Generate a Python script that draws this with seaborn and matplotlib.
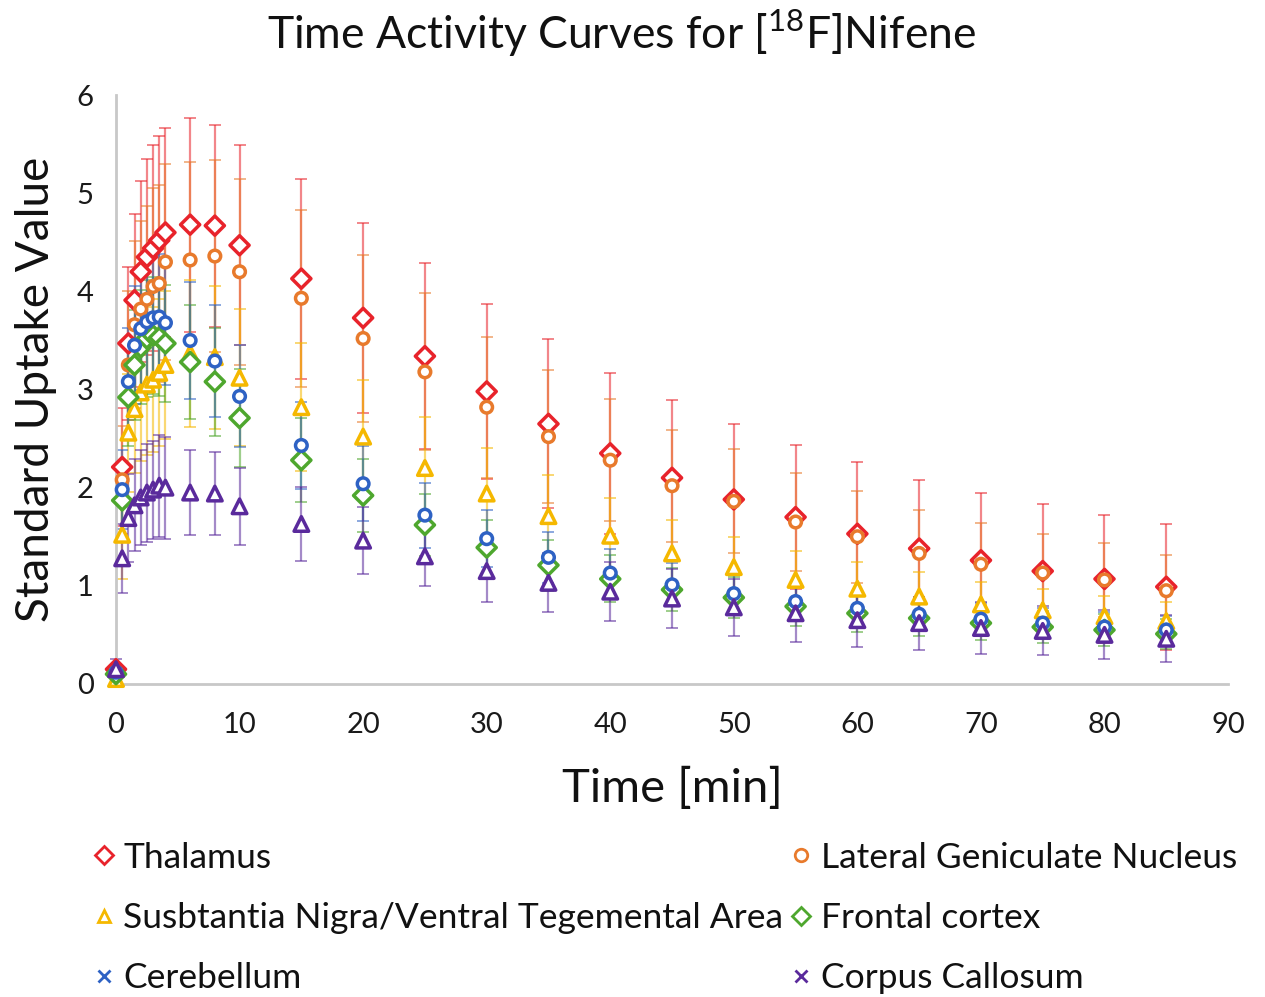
import matplotlib
matplotlib.use("Agg")
import matplotlib.pyplot as plt
from matplotlib.lines import Line2D
import numpy as np
import pandas as pd
import seaborn as sns

# time points (min)
times = [0, 0.5, 1, 1.5, 2, 2.5, 3, 3.5, 4, 6, 8, 10, 15, 20, 25, 30, 35,
         40, 45, 50, 55, 60, 65, 70, 75, 80, 85]

# mean SUV per region
thalamus = [0.15, 2.21, 3.47, 3.91, 4.20, 4.35, 4.44, 4.52, 4.60, 4.68, 4.67,
            4.47, 4.13, 3.73, 3.34, 2.98, 2.65, 2.35, 2.10, 1.88, 1.70, 1.53,
            1.38, 1.26, 1.15, 1.07, 0.99]
lgn = [0.12, 2.08, 3.25, 3.66, 3.82, 3.92, 4.05, 4.08, 4.30, 4.32, 4.36,
       4.20, 3.93, 3.52, 3.18, 2.82, 2.52, 2.28, 2.02, 1.86, 1.65, 1.50,
       1.33, 1.22, 1.13, 1.06, 0.95]
sn_vta = [0.05, 1.52, 2.56, 2.80, 2.97, 3.05, 3.10, 3.17, 3.25, 3.37, 3.33,
          3.12, 2.82, 2.52, 2.20, 1.94, 1.71, 1.51, 1.33, 1.19, 1.06, 0.97,
          0.89, 0.81, 0.75, 0.69, 0.64]
frontal = [0.10, 1.87, 2.92, 3.25, 3.43, 3.52, 3.55, 3.53, 3.47, 3.28, 3.08,
           2.71, 2.28, 1.92, 1.62, 1.39, 1.21, 1.07, 0.96, 0.88, 0.79, 0.72,
           0.67, 0.62, 0.58, 0.55, 0.51]
cerebellum = [0.12, 1.98, 3.08, 3.45, 3.62, 3.69, 3.73, 3.74, 3.68, 3.50,
              3.29, 2.93, 2.43, 2.04, 1.72, 1.48, 1.29, 1.13, 1.01, 0.92,
              0.84, 0.77, 0.71, 0.66, 0.62, 0.58, 0.55]
corpus = [0.15, 1.28, 1.69, 1.82, 1.90, 1.95, 1.98, 2.02, 2.00, 1.95, 1.94,
          1.81, 1.63, 1.46, 1.30, 1.15, 1.03, 0.94, 0.87, 0.78, 0.72, 0.65,
          0.62, 0.57, 0.54, 0.50, 0.46]

# standard deviations
thalamus_sd = [0.05, 0.60, 0.78, 0.88, 0.92, 1.00, 1.05, 1.06, 1.06, 1.09,
               1.03, 1.02, 1.02, 0.97, 0.95, 0.89, 0.86, 0.82, 0.79, 0.77,
               0.73, 0.73, 0.70, 0.69, 0.68, 0.65, 0.64]
lgn_sd = [0.05, 0.55, 0.75, 0.85, 0.90, 0.95, 1.00, 1.00, 1.00, 1.00, 0.98,
          0.95, 0.90, 0.85, 0.80, 0.72, 0.68, 0.62, 0.57, 0.53, 0.50, 0.47,
          0.44, 0.42, 0.40, 0.38, 0.36]
sn_vta_sd = [0.03, 0.45, 0.60, 0.65, 0.70, 0.72, 0.74, 0.75, 0.75, 0.75,
             0.73, 0.70, 0.65, 0.58, 0.52, 0.46, 0.42, 0.38, 0.34, 0.31,
             0.29, 0.27, 0.25, 0.23, 0.22, 0.21, 0.20]
frontal_sd = [0.04, 0.40, 0.50, 0.56, 0.58, 0.60, 0.60, 0.60, 0.60, 0.58,
              0.55, 0.50, 0.43, 0.37, 0.32, 0.28, 0.26, 0.24, 0.22, 0.21,
              0.20, 0.19, 0.18, 0.17, 0.16, 0.16, 0.15]
cerebellum_sd = [0.04, 0.40, 0.55, 0.60, 0.62, 0.63, 0.64, 0.64, 0.63, 0.60,
                 0.57, 0.52, 0.44, 0.38, 0.33, 0.29, 0.26, 0.24, 0.22, 0.20,
                 0.19, 0.18, 0.17, 0.16, 0.15, 0.15, 0.14]
corpus_sd = [0.10, 0.35, 0.45, 0.47, 0.48, 0.50, 0.50, 0.52, 0.52, 0.43,
             0.42, 0.39, 0.38, 0.34, 0.30, 0.31, 0.30, 0.30, 0.30, 0.29,
             0.29, 0.27, 0.27, 0.26, 0.25, 0.25, 0.24]

regions = ["Thalamus", "Lateral Geniculate Nucleus",
           "Susbtantia Nigra/Ventral Tegemental Area", "Frontal cortex",
           "Cerebellum", "Corpus Callosum"]
means = [thalamus, lgn, sn_vta, frontal, cerebellum, corpus]
sds = [thalamus_sd, lgn_sd, sn_vta_sd, frontal_sd, cerebellum_sd, corpus_sd]
colors = ["#e8232b", "#e87a2c", "#f5b800", "#4ea72e", "#2e62c4", "#5a2a9c"]
markers = ["D", "o", "^", "D", "o", "^"]
marker_sizes = [95, 70, 110, 95, 70, 110]
legend_markers = ["D", "o", "^", "D", "x", "x"]

df = pd.concat([
    pd.DataFrame({"time": times, "suv": m, "sd": s, "region": r})
    for r, m, s in zip(regions, means, sds)
], ignore_index=True)

sns.set_theme(style="white")
plt.rcParams["font.family"] = ["Lato", "DejaVu Sans"]

fig = plt.figure(figsize=(12.65, 9.97), dpi=100)
ax = fig.add_axes([0.0917, 0.314, 0.8791, 0.5906])

for r, c in zip(regions, colors):
    sub = df[df.region == r]
    ax.errorbar(sub.time, sub.suv, yerr=sub.sd, fmt="none", ecolor=c,
                alpha=0.55, elinewidth=1.6, capsize=4, capthick=1.4,
                clip_on=False)

sns.scatterplot(data=df, x="time", y="suv", hue="region", style="region",
                size="region",
                palette=dict(zip(regions, colors)),
                markers=dict(zip(regions, markers)),
                sizes=dict(zip(regions, marker_sizes)),
                facecolor="white", linewidth=2.5, legend=False,
                ax=ax, clip_on=False, zorder=5)
# open markers: edge in series colour
for coll in ax.collections:
    fc = coll.get_facecolors()
    if len(fc):
        coll.set_edgecolors(fc)
        coll.set_facecolors("white")

ax.set_xlim(0, 90)
ax.set_ylim(0, 6)
ax.set_xticks(range(0, 91, 10))
ax.set_yticks(range(0, 7))
ax.tick_params(axis="both", length=0, labelsize=21, colors="#1a1a1a")
ax.tick_params(axis="x", pad=20)
ax.tick_params(axis="y", pad=16)
for side in ["top", "right"]:
    ax.spines[side].set_visible(False)
for side in ["left", "bottom"]:
    ax.spines[side].set_color("#c8c8c8")
    ax.spines[side].set_linewidth(2)

ax.set_xlabel("Time [min]", fontsize=34, labelpad=21, color="#111111")
ax.set_ylabel("Standard Uptake Value", fontsize=33, labelpad=14,
              color="#111111")
fig.suptitle(r"Time Activity Curves for [$^{\mathregular{18}}$F]Nifene",
             fontsize=32, x=0.491, y=0.992, color="#111111")

handles = [Line2D([], [], linestyle="none", marker=m, markersize=9,
                  markerfacecolor="white", markeredgecolor=c,
                  markeredgewidth=2, color=c)
           for m, c in zip(legend_markers, colors)]
order = [0, 2, 4, 1, 3, 5]
fig.legend([handles[i] for i in order], [regions[i] for i in order],
           loc="upper left", bbox_to_anchor=(0.0625, 0.170), ncol=2,
           frameon=False, fontsize=25.5, handlelength=0.6, handletextpad=0.25,
           columnspacing=0.2, labelspacing=0.8, borderaxespad=0,
           labelcolor="#111111")

fig.savefig("out.png", dpi=100)
